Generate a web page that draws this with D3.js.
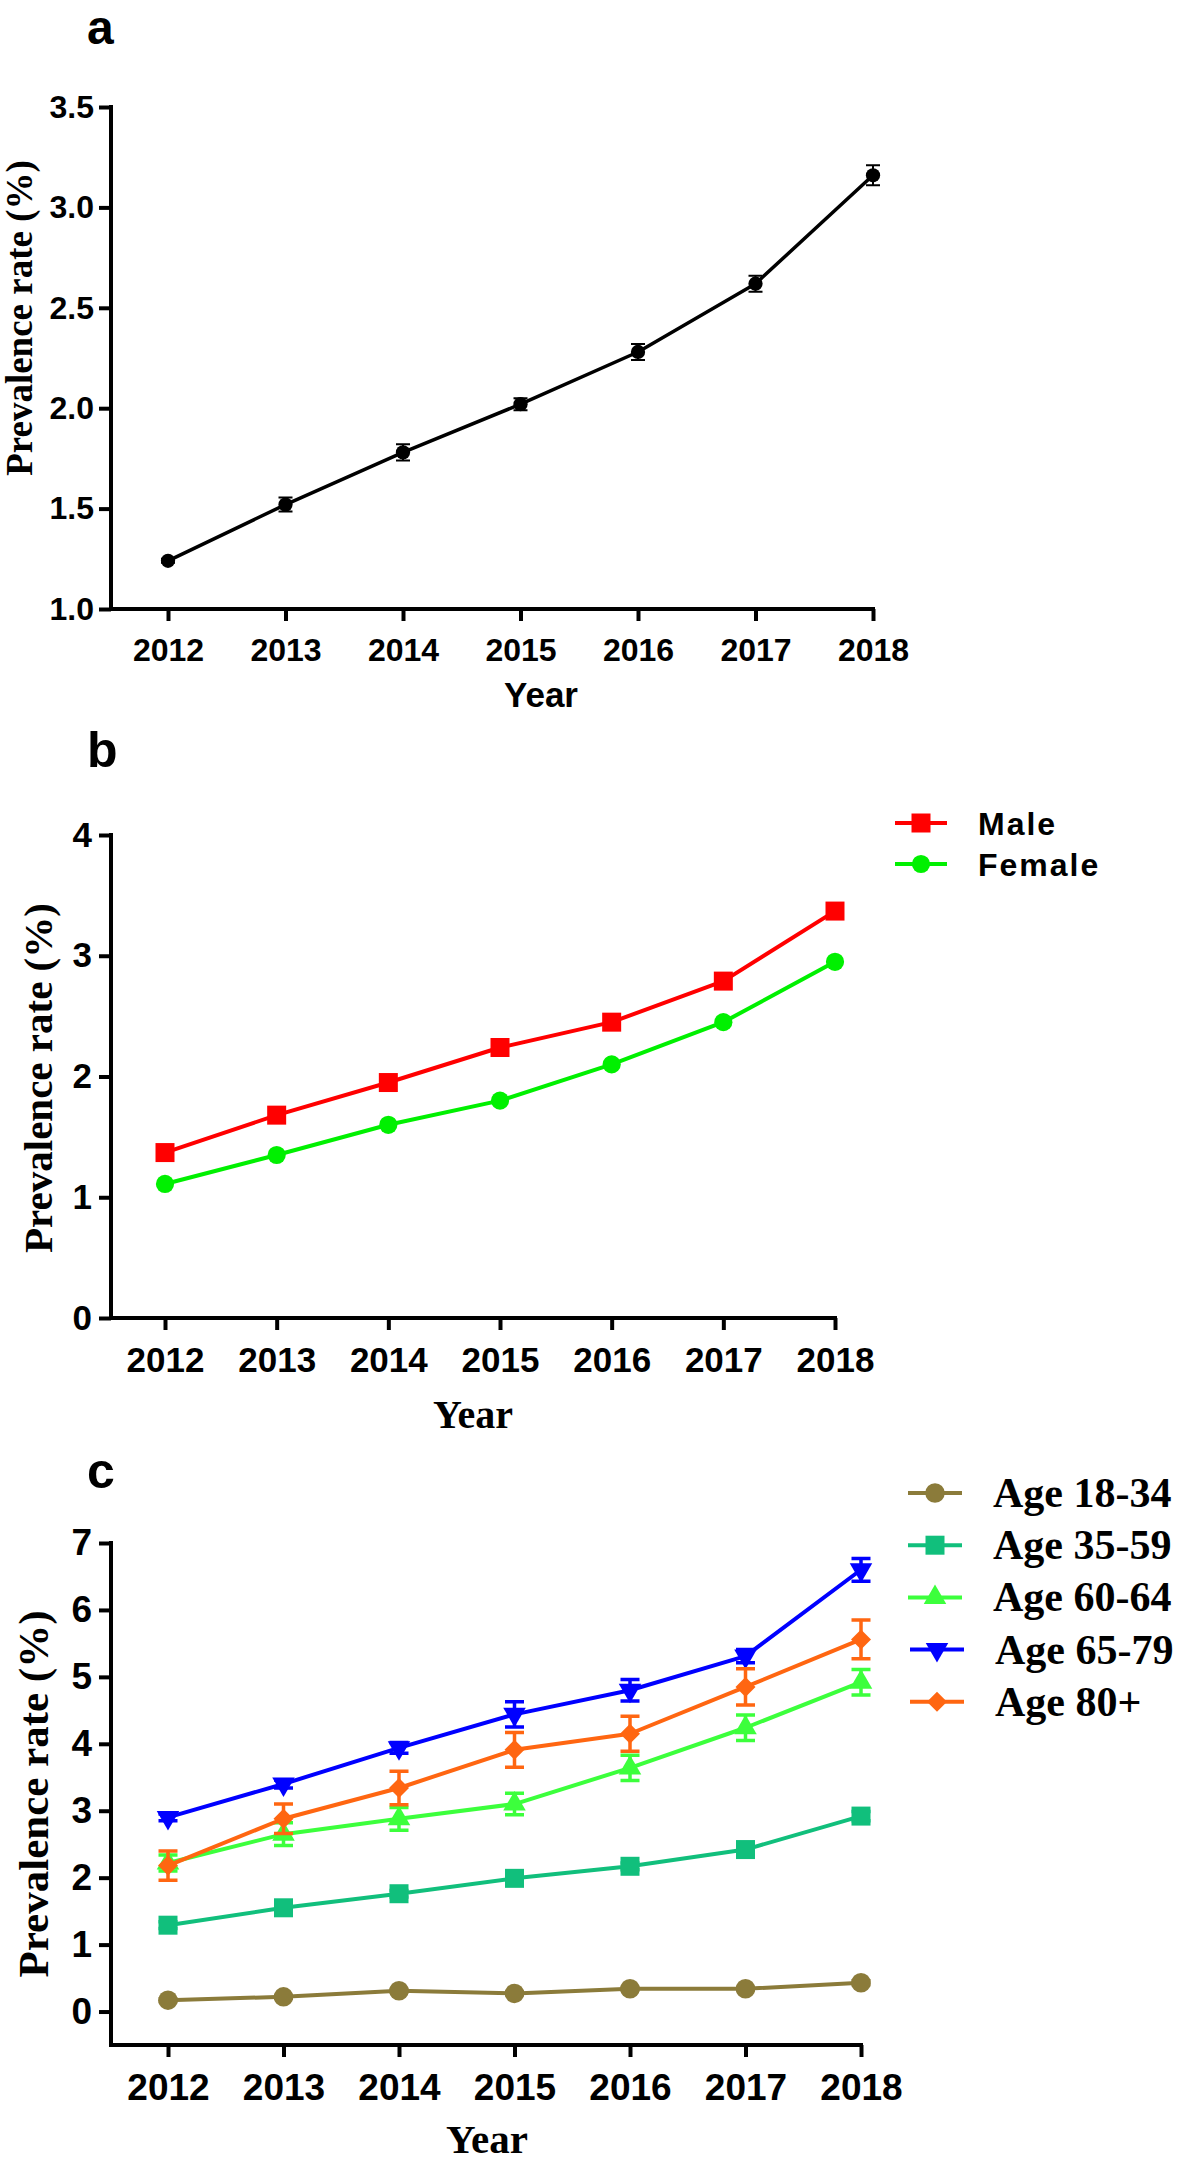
<!DOCTYPE html>
<html>
<head>
<meta charset="UTF-8">
<title>Prevalence rate 2012-2018</title>
<style>
  body { margin: 0; background: #fff; }
  svg { display: block; }
</style>
</head>
<body>
<svg></svg>
<script src="https://d3js.org/d3.v7.min.js"></script>
<script>

let width = 1181, height = 2164;

const years = [2012, 2013, 2014, 2015, 2016, 2017, 2018];

// a: total
const totalRate = [1.24, 1.52, 1.78, 2.02, 2.28, 2.62, 3.16];
const totalErr  = [0.01, 0.035, 0.04, 0.03, 0.04, 0.04, 0.05];
const aTicks = [1.0, 1.5, 2.0, 2.5, 3.0, 3.5];

// b: by sex
const sexNames = ["Male", "Female"];
const maleRate   = [1.37, 1.68, 1.95, 2.24, 2.45, 2.79, 3.37];
const femaleRate = [1.11, 1.35, 1.60, 1.80, 2.10, 2.45, 2.95];
const bTicks = [0, 1, 2, 3, 4];

// c: by age group
const ageNames = ["Age 18-34", "Age 35-59", "Age 60-64", "Age 65-79", "Age 80+"];
const age18Rate = [0.17, 0.22, 0.31, 0.27, 0.34, 0.34, 0.43];
const age18Err  = [0.02, 0.02, 0.02, 0.02, 0.02, 0.02, 0.03];
const age35Rate = [1.29, 1.55, 1.76, 1.99, 2.17, 2.42, 2.92];
const age35Err  = [0.05, 0.05, 0.05, 0.05, 0.05, 0.06, 0.07];
const age60Rate = [2.22, 2.65, 2.88, 3.10, 3.64, 4.24, 4.92];
const age60Err  = [0.12, 0.17, 0.17, 0.16, 0.19, 0.19, 0.19];
const age65Rate = [2.90, 3.40, 3.94, 4.44, 4.80, 5.31, 6.60];
const age65Err  = [0.05, 0.06, 0.08, 0.19, 0.16, 0.10, 0.17];
const age80Rate = [2.18, 2.88, 3.34, 3.91, 4.15, 4.85, 5.56];
const age80Err  = [0.22, 0.22, 0.25, 0.26, 0.26, 0.27, 0.29];
const cTicks = [0, 1, 2, 3, 4, 5, 6, 7];

const SANS = "'Liberation Sans', Arial, Helvetica, sans-serif";
const SERIF = "'Liberation Serif', 'Times New Roman', serif";

let svg = d3.select("svg")
    .attr("width", width)
    .attr("height", height)
    .attr("viewBox", "0 0 " + width + " " + height);

function markerPath(shape, size) {
  if (shape == "circle") return d3.symbol(d3.symbolCircle, size)();
  if (shape == "square" || shape == "diamond") return d3.symbol(d3.symbolSquare, size)();
  return d3.symbol(d3.symbolTriangle, size)();
}
function markerRotate(shape) {
  if (shape == "diamond") return 45;
  if (shape == "down") return 180;
  return 0;
}

function drawPanel(p) {
  let g = svg.append("g");
  let x = d3.scaleLinear().domain([2012, 2018]).range([p.x0, p.x1]);
  let y = d3.scaleLinear().domain(p.yDomain).range([p.yBottom, p.yTop]);

  // y axis ticks + labels
  let ya = g.append("g")
      .attr("transform", "translate(" + p.axisX + ",0)")
      .call(d3.axisLeft(y).tickValues(p.yTicks).tickFormat(p.fmt)
          .tickSize(12).tickSizeOuter(0).tickPadding(p.yPad));
  ya.select(".domain").remove();
  ya.selectAll("line").attr("stroke", "#000").attr("stroke-width", 4);
  ya.selectAll("text").attr("fill", "#000")
      .style("font-family", SANS).style("font-weight", "bold")
      .style("font-size", p.tickFont + "px");

  // x axis ticks + labels
  let xa = g.append("g")
      .attr("transform", "translate(0," + p.yBottom + ")")
      .call(d3.axisBottom(x).tickValues(years).tickFormat(d3.format("d"))
          .tickSize(12).tickSizeOuter(0).tickPadding(17));
  xa.select(".domain").remove();
  xa.selectAll("line").attr("stroke", "#000").attr("stroke-width", 4);
  xa.selectAll("text").attr("fill", "#000")
      .style("font-family", SANS).style("font-weight", "bold")
      .style("font-size", p.tickFont + "px");

  // axis lines
  g.append("path")
      .attr("d", "M" + p.axisX + "," + p.yTop + "V" + p.yBottom + "H" + x(2018))
      .attr("fill", "none").attr("stroke", "#000").attr("stroke-width", 4)
      .attr("stroke-linecap", "square");

  // panel letter
  g.append("text").attr("x", p.letterX).attr("y", p.letterY)
      .text(p.letter)
      .style("font-family", SANS).style("font-weight", "bold").style("font-size", p.letterFont + "px");

  // axis titles
  g.append("text")
      .attr("transform", "translate(" + p.yTitleX + "," + p.yTitleY + ") rotate(-90)")
      .attr("text-anchor", "middle")
      .text("Prevalence rate (%)")
      .style("font-family", SERIF).style("font-weight", "bold")
      .style("font-size", p.yTitleFont + "px");

  g.append("text")
      .attr("x", p.xTitleX).attr("y", p.xTitleY)
      .attr("text-anchor", "middle")
      .text("Year")
      .style("font-family", p.xTitleSerif ? SERIF : SANS).style("font-weight", "bold")
      .style("font-size", p.xTitleFont + "px");

  let line = d3.line().x((d, i) => x(years[i])).y(d => y(d));

  p.series.forEach(s => {
    let sg = g.append("g");
    sg.append("path")
        .attr("d", line(s.values))
        .attr("fill", "none")
        .attr("stroke", s.color)
        .attr("stroke-width", p.lineWidth)
        .attr("stroke-linejoin", "round");

    if (s.err) {
      let eb = sg.selectAll("g.err")
          .data(s.values)
          .enter().append("g")
          .attr("class", "err");
      eb.append("path")
          .attr("d", (d, i) => {
            let cx = x(years[i]), lo = y(d - s.err[i]), hi = y(d + s.err[i]);
            let w = p.capHalf;
            return "M" + cx + "," + lo + "V" + hi +
                   "M" + (cx - w) + "," + hi + "H" + (cx + w) +
                   "M" + (cx - w) + "," + lo + "H" + (cx + w);
          })
          .attr("fill", "none")
          .attr("stroke", s.color)
          .attr("stroke-width", p.errWidth);
    }

    sg.selectAll("path.mk")
        .data(s.values)
        .enter().append("path")
        .attr("class", "mk")
        .attr("d", markerPath(s.shape, s.size))
        .attr("transform", (d, i) => "translate(" + x(years[i]) + "," + y(d) + ") rotate(" + markerRotate(s.shape) + ")")
        .attr("fill", s.color);
  });

  // legend
  if (p.legend) {
    let L = p.legend;
    let lg = g.selectAll("g.legend")
        .data(p.series)
        .enter().append("g")
        .attr("class", "legend")
        .attr("transform", (d, i) => "translate(" + (L.x + (L.shift ? L.shift[i] : 0)) + "," + (L.y + i * L.step) + ")");
    lg.append("line")
        .attr("x1", 0).attr("x2", L.len)
        .attr("stroke", d => d.color)
        .attr("stroke-width", p.lineWidth);
    lg.append("path")
        .attr("d", d => markerPath(d.shape, d.size))
        .attr("transform", d => "translate(" + (L.len / 2) + ",0) rotate(" + markerRotate(d.shape) + ")")
        .attr("fill", d => d.color);
    lg.append("text")
        .attr("x", L.textX)
        .attr("y", L.baseline)
        .text(d => d.name)
        .style("font-family", L.serif ? SERIF : SANS)
        .style("font-weight", "bold")
        .style("font-size", L.font + "px")
        .style("letter-spacing", L.spacing + "px");
  }
}

// panel a
drawPanel({
  letter: "a", letterX: 87, letterY: 44, letterFont: 48,
  axisX: 111, x0: 168, x1: 873,
  yDomain: [1, 3.5], yTop: 107, yBottom: 609, yTicks: aTicks, fmt: d3.format(".1f"),
  yPad: 5, tickFont: 32,
  yTitleX: 32, yTitleY: 318, yTitleFont: 37,
  xTitleX: 541, xTitleY: 707, xTitleFont: 35, xTitleSerif: false,
  lineWidth: 3.5, capHalf: 7, errWidth: 2,
  series: [{ name: "All", values: totalRate, err: totalErr, color: "#000", shape: "circle", size: 160 }]
});

// panel b
drawPanel({
  letter: "b", letterX: 87, letterY: 767, letterFont: 50,
  axisX: 111, x0: 165, x1: 835,
  yDomain: [0, 4], yTop: 835, yBottom: 1318, yTicks: bTicks, fmt: d3.format("d"),
  yPad: 7, tickFont: 35,
  yTitleX: 52, yTitleY: 1078, yTitleFont: 41,
  xTitleX: 473, xTitleY: 1428, xTitleFont: 40, xTitleSerif: true,
  lineWidth: 4, capHalf: 8, errWidth: 2,
  series: [
    { name: sexNames[0], values: maleRate, color: "#ff0000", shape: "square", size: 361 },
    { name: sexNames[1], values: femaleRate, color: "#00f000", shape: "circle", size: 260 }
  ],
  legend: { x: 895, y: 823, step: 41, len: 52, textX: 83, baseline: 12, font: 32, spacing: 2, serif: false }
});

// panel c
drawPanel({
  letter: "c", letterX: 87, letterY: 1488, letterFont: 50,
  axisX: 111, x0: 168, x1: 861,
  yDomain: [-0.5, 7], yTop: 1543, yBottom: 2045, yTicks: cTicks, fmt: d3.format("d"),
  yPad: 7, tickFont: 37,
  yTitleX: 48, yTitleY: 1794, yTitleFont: 43,
  xTitleX: 487, xTitleY: 2153, xTitleFont: 41, xTitleSerif: true,
  lineWidth: 4, capHalf: 9.5, errWidth: 3.5,
  series: [
    { name: ageNames[0], values: age18Rate, err: age18Err, color: "#8b7b3a", shape: "circle", size: 300 },
    { name: ageNames[1], values: age35Rate, err: age35Err, color: "#11bf7c", shape: "square", size: 361 },
    { name: ageNames[2], values: age60Rate, err: age60Err, color: "#3cff3c", shape: "triangle", size: 220 },
    { name: ageNames[3], values: age65Rate, err: age65Err, color: "#0000ff", shape: "down", size: 220 },
    { name: ageNames[4], values: age80Rate, err: age80Err, color: "#ff6611", shape: "diamond", size: 200 }
  ],
  legend: { x: 908, y: 1493, step: 52.2, len: 54, shift: [0, 0, 0, 2, 2], textX: 85, baseline: 14, font: 42, spacing: 0, serif: true }
});

</script>
</body>
</html>
